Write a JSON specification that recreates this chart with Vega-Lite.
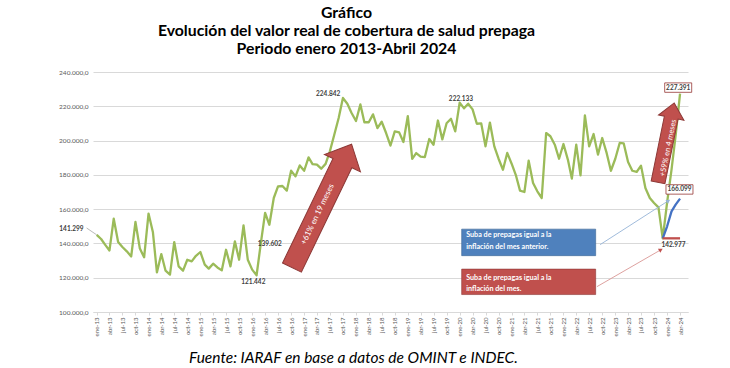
{
"$schema": "https://vega.github.io/schema/vega-lite/v6.json",
"width": 595,
"height": 240,
"autosize": {"type": "none"},
"padding": {"left": 93, "top": 72, "right": 42, "bottom": 56},
"background": "white",
"config": {"view": {"stroke": null}, "font": "Lato", "axis": {"labelOverlap": false}},
"title": {"text": ["Gráfico", "Evolución del valor real de cobertura de salud prepaga", "Periodo enero 2013-Abril 2024"], "font": "Lato", "fontSize": 15.8, "fontWeight": "bold", "color": "#000000", "lineHeight": 18, "anchor": "middle", "frame": "group", "dx": -44, "offset": 11},
"encoding": {
"x": {"field": "fecha", "type": "temporal",
"scale": {"domain": [{"year": 2012, "month": 12, "date": 6}, {"year": 2024, "month": 5, "date": 27}]},
"axis": {"tickCount": {"interval": "month", "step": 3}, "labelExpr": "['ene','feb','mar','abr','may','jun','jul','ago','sep','oct','nov','dic'][month(datum.value)] + '-' + timeFormat(datum.value, '%y')", "labelAngle": 270, "labelFontSize": 6, "labelColor": "#595959", "labelOverlap": false, "labelFlush": false, "labelPadding": 2, "grid": false, "domainColor": "#d9d9d9", "tickColor": "#d9d9d9", "tickSize": 3,
"title": "Fuente: IARAF en base a datos de OMINT e INDEC.", "titleFont": "Lato", "titleFontSize": 15.5, "titleFontStyle": "italic", "titleFontWeight": "normal", "titleColor": "#000000", "titleX": 260, "titleY": 45, "titleBaseline": "middle", "titleAlign": "center"}},
"y": {"field": "valor", "type": "quantitative",
"scale": {"domain": [100000, 240000], "nice": false, "zero": false},
"axis": {"values": [100000, 120000, 140000, 160000, 180000, 200000, 220000, 240000], "title": null, "labelExpr": "replace(replace(format(datum.value, ',.1f'), '.', ','), ',', '.')", "labelFontSize": 6.5, "labelColor": "#595959", "labelPadding": 5, "labelOverlap": false, "labelFlush": false, "labelBound": false, "grid": true, "gridColor": "#d9d9d9", "domain": false, "ticks": false}}
},
"layer": [
{
"data": {"format": {"parse": {"fecha": "date:'%Y-%m-%d'"}}, "values": [
{"fecha":"2013-01-01","valor":145000,"serie":"real"},{"fecha":"2013-02-01","valor":142600,"serie":"real"},{"fecha":"2013-03-01","valor":139300,"serie":"real"},{"fecha":"2013-04-01","valor":135900,"serie":"real"},{"fecha":"2013-05-01","valor":154400,"serie":"real"},{"fecha":"2013-06-01","valor":140800,"serie":"real"},{"fecha":"2013-07-01","valor":137900,"serie":"real"},{"fecha":"2013-08-01","valor":135400,"serie":"real"},{"fecha":"2013-09-01","valor":132400,"serie":"real"},{"fecha":"2013-10-01","valor":152500,"serie":"real"},{"fecha":"2013-11-01","valor":137000,"serie":"real"},{"fecha":"2013-12-01","valor":131900,"serie":"real"},
{"fecha":"2014-01-01","valor":157400,"serie":"real"},{"fecha":"2014-02-01","valor":146500,"serie":"real"},{"fecha":"2014-03-01","valor":123100,"serie":"real"},{"fecha":"2014-04-01","valor":133800,"serie":"real"},{"fecha":"2014-05-01","valor":124100,"serie":"real"},{"fecha":"2014-06-01","valor":121800,"serie":"real"},{"fecha":"2014-07-01","valor":140800,"serie":"real"},{"fecha":"2014-08-01","valor":126600,"serie":"real"},{"fecha":"2014-09-01","valor":124100,"serie":"real"},{"fecha":"2014-10-01","valor":130500,"serie":"real"},{"fecha":"2014-11-01","valor":129500,"serie":"real"},{"fecha":"2014-12-01","valor":132800,"serie":"real"},
{"fecha":"2015-01-01","valor":135000,"serie":"real"},{"fecha":"2015-02-01","valor":127600,"serie":"real"},{"fecha":"2015-03-01","valor":125300,"serie":"real"},{"fecha":"2015-04-01","valor":128200,"serie":"real"},{"fecha":"2015-05-01","valor":126000,"serie":"real"},{"fecha":"2015-06-01","valor":124300,"serie":"real"},{"fecha":"2015-07-01","valor":136300,"serie":"real"},{"fecha":"2015-08-01","valor":126600,"serie":"real"},{"fecha":"2015-09-01","valor":141200,"serie":"real"},{"fecha":"2015-10-01","valor":130500,"serie":"real"},{"fecha":"2015-11-01","valor":150500,"serie":"real"},{"fecha":"2015-12-01","valor":130500,"serie":"real"},
{"fecha":"2016-01-01","valor":124700,"serie":"real"},{"fecha":"2016-02-01","valor":121442,"serie":"real"},{"fecha":"2016-03-01","valor":139602,"serie":"real"},{"fecha":"2016-04-01","valor":157800,"serie":"real"},{"fecha":"2016-05-01","valor":150900,"serie":"real"},{"fecha":"2016-06-01","valor":166500,"serie":"real"},{"fecha":"2016-07-01","valor":173300,"serie":"real"},{"fecha":"2016-08-01","valor":173500,"serie":"real"},{"fecha":"2016-09-01","valor":170800,"serie":"real"},{"fecha":"2016-10-01","valor":182400,"serie":"real"},{"fecha":"2016-11-01","valor":179100,"serie":"real"},{"fecha":"2016-12-01","valor":185500,"serie":"real"},
{"fecha":"2017-01-01","valor":182400,"serie":"real"},{"fecha":"2017-02-01","valor":190200,"serie":"real"},{"fecha":"2017-03-01","valor":186300,"serie":"real"},{"fecha":"2017-04-01","valor":186000,"serie":"real"},{"fecha":"2017-05-01","valor":183600,"serie":"real"},{"fecha":"2017-06-01","valor":186400,"serie":"real"},{"fecha":"2017-07-01","valor":193700,"serie":"real"},{"fecha":"2017-08-01","valor":203400,"serie":"real"},{"fecha":"2017-09-01","valor":213200,"serie":"real"},{"fecha":"2017-10-01","valor":224842,"serie":"real"},{"fecha":"2017-11-01","valor":221500,"serie":"real"},{"fecha":"2017-12-01","valor":216100,"serie":"real"},
{"fecha":"2018-01-01","valor":211400,"serie":"real"},{"fecha":"2018-02-01","valor":221100,"serie":"real"},{"fecha":"2018-03-01","valor":210700,"serie":"real"},{"fecha":"2018-04-01","valor":210700,"serie":"real"},{"fecha":"2018-05-01","valor":215300,"serie":"real"},{"fecha":"2018-06-01","valor":207300,"serie":"real"},{"fecha":"2018-07-01","valor":211000,"serie":"real"},{"fecha":"2018-08-01","valor":204400,"serie":"real"},{"fecha":"2018-09-01","valor":197100,"serie":"real"},{"fecha":"2018-10-01","valor":205400,"serie":"real"},{"fecha":"2018-11-01","valor":204800,"serie":"real"},{"fecha":"2018-12-01","valor":199200,"serie":"real"},
{"fecha":"2019-01-01","valor":214300,"serie":"real"},{"fecha":"2019-02-01","valor":189300,"serie":"real"},{"fecha":"2019-03-01","valor":192700,"serie":"real"},{"fecha":"2019-04-01","valor":190600,"serie":"real"},{"fecha":"2019-05-01","valor":190400,"serie":"real"},{"fecha":"2019-06-01","valor":200900,"serie":"real"},{"fecha":"2019-07-01","valor":197600,"serie":"real"},{"fecha":"2019-08-01","valor":211700,"serie":"real"},{"fecha":"2019-09-01","valor":200700,"serie":"real"},{"fecha":"2019-10-01","valor":210100,"serie":"real"},{"fecha":"2019-11-01","valor":212700,"serie":"real"},{"fecha":"2019-12-01","valor":205400,"serie":"real"},
{"fecha":"2020-01-01","valor":222133,"serie":"real"},{"fecha":"2020-02-01","valor":218800,"serie":"real"},{"fecha":"2020-03-01","valor":221500,"serie":"real"},{"fecha":"2020-04-01","valor":218200,"serie":"real"},{"fecha":"2020-05-01","valor":209800,"serie":"real"},{"fecha":"2020-06-01","valor":210000,"serie":"real"},{"fecha":"2020-07-01","valor":196600,"serie":"real"},{"fecha":"2020-08-01","valor":210500,"serie":"real"},{"fecha":"2020-09-01","valor":196600,"serie":"real"},{"fecha":"2020-10-01","valor":189400,"serie":"real"},{"fecha":"2020-11-01","valor":183000,"serie":"real"},{"fecha":"2020-12-01","valor":192800,"serie":"real"},
{"fecha":"2021-01-01","valor":186500,"serie":"real"},{"fecha":"2021-02-01","valor":179500,"serie":"real"},{"fecha":"2021-03-01","valor":170800,"serie":"real"},{"fecha":"2021-04-01","valor":170000,"serie":"real"},{"fecha":"2021-05-01","valor":188300,"serie":"real"},{"fecha":"2021-06-01","valor":175300,"serie":"real"},{"fecha":"2021-07-01","valor":170400,"serie":"real"},{"fecha":"2021-08-01","valor":166500,"serie":"real"},{"fecha":"2021-09-01","valor":204400,"serie":"real"},{"fecha":"2021-10-01","valor":202500,"serie":"real"},{"fecha":"2021-11-01","valor":197600,"serie":"real"},{"fecha":"2021-12-01","valor":189400,"serie":"real"},
{"fecha":"2022-01-01","valor":198000,"serie":"real"},{"fecha":"2022-02-01","valor":188900,"serie":"real"},{"fecha":"2022-03-01","valor":177800,"serie":"real"},{"fecha":"2022-04-01","valor":197600,"serie":"real"},{"fecha":"2022-05-01","valor":179700,"serie":"real"},{"fecha":"2022-06-01","valor":214700,"serie":"real"},{"fecha":"2022-07-01","valor":196600,"serie":"real"},{"fecha":"2022-08-01","valor":203800,"serie":"real"},{"fecha":"2022-09-01","valor":191800,"serie":"real"},{"fecha":"2022-10-01","valor":201500,"serie":"real"},{"fecha":"2022-11-01","valor":192800,"serie":"real"},{"fecha":"2022-12-01","valor":182400,"serie":"real"},
{"fecha":"2023-01-01","valor":189400,"serie":"real"},{"fecha":"2023-02-01","valor":198600,"serie":"real"},{"fecha":"2023-03-01","valor":198400,"serie":"real"},{"fecha":"2023-04-01","valor":187500,"serie":"real"},{"fecha":"2023-05-01","valor":182400,"serie":"real"},{"fecha":"2023-06-01","valor":181700,"serie":"real"},{"fecha":"2023-07-01","valor":185400,"serie":"real"},{"fecha":"2023-08-01","valor":172300,"serie":"real"},{"fecha":"2023-09-01","valor":166500,"serie":"real"},{"fecha":"2023-10-01","valor":163600,"serie":"real"},{"fecha":"2023-11-01","valor":161000,"serie":"real"},{"fecha":"2023-12-01","valor":142977,"serie":"real"},
{"fecha":"2024-01-01","valor":164000,"serie":"real"},{"fecha":"2024-02-01","valor":183000,"serie":"real"},{"fecha":"2024-03-01","valor":203000,"serie":"real"},{"fecha":"2024-04-01","valor":227391,"serie":"real"},
{"fecha":"2023-12-01","valor":142977,"serie":"anterior"},{"fecha":"2024-01-01","valor":150000,"serie":"anterior"},{"fecha":"2024-02-01","valor":158700,"serie":"anterior"},{"fecha":"2024-03-01","valor":162600,"serie":"anterior"},{"fecha":"2024-04-01","valor":166099,"serie":"anterior"},
{"fecha":"2023-12-01","valor":142977,"serie":"mes"},{"fecha":"2024-01-01","valor":142977,"serie":"mes"},{"fecha":"2024-02-01","valor":142977,"serie":"mes"},{"fecha":"2024-03-01","valor":142977,"serie":"mes"},{"fecha":"2024-04-01","valor":142977,"serie":"mes"}
]},
"mark": {"type": "line", "strokeWidth": 2.3, "strokeJoin": "round"},
"encoding": {
"color": {"field": "serie", "type": "nominal", "scale": {"domain": ["real", "anterior", "mes"], "range": ["#9bbb59", "#4472c4", "#c0504d"]}, "legend": null}
}
},
{
"data": {"format": {"parse": {"fecha": "date:'%Y-%m-%d'", "fecha2": "date:'%Y-%m-%d'"}}, "values": [
{"fecha":"2012-10-22","valor":149000,"fecha2":"2013-01-01","valor2":145000}
]},
"mark": {"type": "rule", "stroke": "#a6a6a6", "strokeWidth": 0.8},
"encoding": {"x2": {"field": "fecha2"}, "y2": {"field": "valor2"}}
},
{
"data": {"format": {"parse": {"fecha": "date:'%Y-%m-%d'", "fecha2": "date:'%Y-%m-%d'"}}, "values": [
{"fecha":"2022-09-16","valor":139300,"fecha2":"2024-01-10","valor2":164900}
]},
"mark": {"type": "rule", "stroke": "#95b3d7", "strokeWidth": 0.9},
"encoding": {"x2": {"field": "fecha2"}, "y2": {"field": "valor2"}}
},
{
"data": {"format": {"parse": {"fecha": "date:'%Y-%m-%d'", "fecha2": "date:'%Y-%m-%d'"}}, "values": [
{"fecha":"2022-08-25","valor":114800,"fecha2":"2023-11-18","valor2":136300}
]},
"mark": {"type": "rule", "stroke": "#d99694", "strokeWidth": 0.9},
"encoding": {"x2": {"field": "fecha2"}, "y2": {"field": "valor2"}}
},
{
"data": {"format": {"parse": {"fecha": "date:'%Y-%m-%d'"}}, "values": [
{"fecha":"2024-01-10","valor":164900}
]},
"mark": {"type": "point", "shape": "triangle-up", "size": 22, "angle": 57, "filled": true, "fill": "#95b3d7", "stroke": null, "opacity": 1},
"encoding": {}
},
{
"data": {"format": {"parse": {"fecha": "date:'%Y-%m-%d'"}}, "values": [
{"fecha":"2023-11-18","valor":136300}
]},
"mark": {"type": "point", "shape": "triangle-up", "size": 22, "angle": 60, "filled": true, "fill": "#c0504d", "stroke": null, "opacity": 1},
"encoding": {}
},
{
"data": {"format": {"parse": {"fecha": "date:'%Y-%m-%d'"}}, "values": [
{"fecha":"2017-05-05","valor":161900}
]},
"mark": {"type": "point", "shape": "M-0.153,1 L0.153,1 L0.153,-0.693 L0.292,-0.693 L0,-1 L-0.292,-0.693 L-0.153,-0.693 Z", "size": 18769, "angle": 25.8, "filled": true, "fill": "#c0504d", "stroke": "#8c3836", "strokeWidth": 1, "opacity": 1},
"encoding": {}
},
{
"data": {"format": {"parse": {"fecha": "date:'%Y-%m-%d'"}}, "values": [
{"fecha":"2023-12-25","valor":198800}
]},
"mark": {"type": "point", "shape": "M-0.173,1 L0.173,1 L0.173,-0.63 L0.32,-0.63 L0,-1 L-0.32,-0.63 L-0.173,-0.63 Z", "size": 6561, "angle": 11.5, "filled": true, "fill": "#c0504d", "stroke": "#8c3836", "strokeWidth": 1, "opacity": 1},
"encoding": {}
},
{
"data": {"format": {"parse": {"fecha": "date:'%Y-%m-%d'"}}, "values": [
{"fecha":"2017-04-07","valor":156900,"texto":"+61% en 19 meses"}
]},
"mark": {"type": "text", "angle": 295.8, "fontSize": 8, "color": "#ffffff", "align": "center", "baseline": "middle"},
"encoding": {"text": {"field": "texto"}}
},
{
"data": {"format": {"parse": {"fecha": "date:'%Y-%m-%d'"}}, "values": [
{"fecha":"2024-01-10","valor":195700,"texto":"+59% en 4 meses"}
]},
"mark": {"type": "text", "angle": 281.5, "fontSize": 7.5, "color": "#ffffff", "align": "center", "baseline": "middle"},
"encoding": {"text": {"field": "texto"}}
},
{
"data": {"format": {"parse": {"fecha": "date:'%Y-%m-%d'"}}, "values": [
{"fecha":"2021-05-01","valor":140600}
]},
"mark": {"type": "point", "shape": "M-1,-0.198 L1,-0.198 L1,0.198 L-1,0.198 Z", "size": 17956, "filled": true, "fill": "#4f81bd", "stroke": "#3a6696", "strokeWidth": 0.6, "opacity": 1},
"encoding": {}
},
{
"data": {"format": {"parse": {"fecha": "date:'%Y-%m-%d'"}}, "values": [
{"fecha":"2021-05-01","valor":117600}
]},
"mark": {"type": "point", "shape": "M-1,-0.19 L1,-0.19 L1,0.19 L-1,0.19 Z", "size": 17956, "filled": true, "fill": "#c0504d", "stroke": "#8c3836", "strokeWidth": 0.6, "opacity": 1},
"encoding": {}
},
{
"data": {"format": {"parse": {"fecha": "date:'%Y-%m-%d'"}}, "values": [
{"fecha":"2020-02-16","valor":144700,"texto":"Suba de prepagas igual a la"},
{"fecha":"2020-02-16","valor":137900,"texto":"inflación del mes anterior."},
{"fecha":"2020-02-16","valor":119700,"texto":"Suba de prepagas igual a la"},
{"fecha":"2020-02-16","valor":113600,"texto":"inflación del mes."}
]},
"mark": {"type": "text", "fontSize": 7.2, "fontWeight": "bold", "color": "#ffffff", "align": "left", "baseline": "middle"},
"encoding": {"text": {"field": "texto"}}
},
{
"data": {"format": {"parse": {"fecha": "date:'%Y-%m-%d'"}}, "values": [
{"fecha":"2024-03-19","valor":230900},
{"fecha":"2024-03-28","valor":171500}
]},
"mark": {"type": "point", "shape": "M-1,-0.35 L1,-0.35 L1,0.35 L-1,0.35 Z", "size": 729, "filled": true, "fill": "#ffffff", "stroke": "#953735", "strokeWidth": 0.8, "opacity": 1},
"encoding": {}
},
{
"data": {"format": {"parse": {"fecha": "date:'%Y-%m-%d'"}}, "values": [
{"fecha":"2012-07-07","valor":148600,"texto":"141.299"},
{"fecha":"2016-01-09","valor":117700,"texto":"121.442"},
{"fecha":"2016-05-04","valor":139700,"texto":"139.602"},
{"fecha":"2017-06-19","valor":227400,"texto":"224.842"},
{"fecha":"2020-01-10","valor":224400,"texto":"222.133"},
{"fecha":"2024-02-15","valor":138800,"texto":"142.977"},
{"fecha":"2024-03-19","valor":230900,"texto":"227.391"},
{"fecha":"2024-03-28","valor":171500,"texto":"166.099"}
]},
"mark": {"type": "text", "fontSize": 6.5, "fontWeight": "bold", "color": "#404040", "align": "center", "baseline": "middle"},
"encoding": {"text": {"field": "texto"}}
}
]
}
